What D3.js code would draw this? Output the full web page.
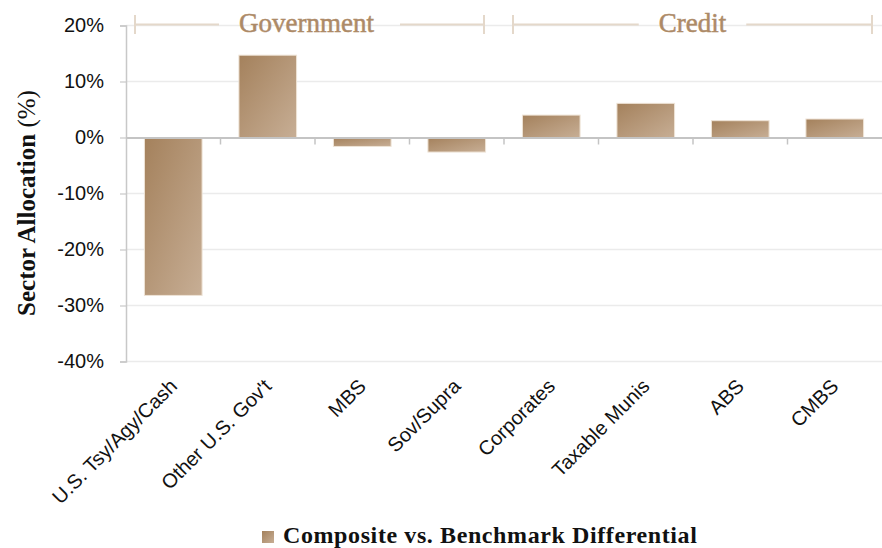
<!DOCTYPE html>
<html><head><meta charset="utf-8">
<script src="https://cdn.jsdelivr.net/npm/d3@7/dist/d3.min.js"></script>
<style>body{margin:0;background:#fff}svg{display:block}</style>
</head><body>
<svg id="chart" width="882" height="548"></svg>
<script>
const categories = ["U.S. Tsy/Agy/Cash","Other U.S. Gov't","MBS","Sov/Supra","Corporates","Taxable Munis","ABS","CMBS"];
const values = [-28.2, 14.7, -1.6, -2.6, 4.0, 6.1, 3.0, 3.3];
const yTicks = [20, 10, 0, -10, -20, -30, -40];
const groups = [{name:"Government", from:0, to:3}, {name:"Credit", from:4, to:7}];
const seriesName = "Composite vs. Benchmark Differential";
const yTitle = "Sector Allocation (%)";

const svg = d3.select("#chart");
const mLeft = 126, mRight = 882, mTop = 25.5, mBottom = 361.5;
const x = d3.scaleBand().domain(categories).range([mLeft, mRight]).paddingInner(0.39).paddingOuter(0.195);
const xb = d3.scaleBand().domain(categories).range([mLeft, mRight]);
const y = d3.scaleLinear().domain([-40, 20]).range([mBottom, mTop]);

const defs = svg.append("defs");
const g = defs.append("linearGradient").attr("id","barGrad").attr("x1","0").attr("y1","0").attr("x2","1").attr("y2","1");
g.append("stop").attr("offset","0%").attr("stop-color","#a4815c");
g.append("stop").attr("offset","100%").attr("stop-color","#c7ae95");

// gridlines
svg.append("g").selectAll("line").data(yTicks.filter(d=>d!==0)).join("line")
  .attr("x1", mLeft).attr("x2", mRight).attr("y1", d=>y(d)).attr("y2", d=>y(d))
  .attr("stroke", "#ebebeb").attr("stroke-width", 1.4);

// y axis
const yAxis = d3.axisLeft(y).tickValues(yTicks).tickFormat(d=>d+"%").tickSize(6).tickSizeOuter(6).tickPadding(16);
const ya = svg.append("g").attr("transform",`translate(${mLeft},0)`).call(yAxis);
ya.select(".domain").attr("stroke","#c8c8c8").attr("stroke-width",1.5);
ya.selectAll(".tick line").attr("stroke","#c8c8c8").attr("stroke-width",1.2);
ya.selectAll(".tick text").attr("font-family","'Liberation Sans', Arial, sans-serif").attr("font-size",20).attr("fill","#111");

// bars
svg.append("g").selectAll("rect").data(categories).join("rect")
  .attr("x", d=>x(d)).attr("width", x.bandwidth())
  .attr("y", (d,i)=>y(Math.max(0, values[i])))
  .attr("height", (d,i)=>Math.abs(y(values[i]) - y(0)))
  .attr("fill","url(#barGrad)").attr("stroke","#eee3d6").attr("stroke-width",1);

// zero line with category ticks
const xAxis = d3.axisBottom(xb).tickSize(0).tickFormat("");
const za = svg.append("g").attr("transform",`translate(0,${y(0)})`).call(xAxis);
za.select(".domain").attr("stroke","#c4c4c4").attr("stroke-width",1.8);
svg.append("g").selectAll("line").data(categories.slice(1)).join("line")
  .attr("x1", d=>xb(d)).attr("x2", d=>xb(d)).attr("y1", y(0)).attr("y2", y(0)+7)
  .attr("stroke","#c4c4c4").attr("stroke-width",1.5);

// x labels
svg.append("g").selectAll("text").data(categories).join("text")
  .attr("transform", d=>`translate(${x(d)+x.bandwidth()/2+5},${mBottom+26}) rotate(-45)`)
  .attr("text-anchor","end")
  .attr("font-family","'Liberation Sans', Arial, sans-serif").attr("font-size",20).attr("fill","#111")
  .text(d=>d);

// y title
svg.append("text").attr("transform","translate(35,203) rotate(-90)").attr("text-anchor","middle")
  .attr("font-family","'Liberation Serif', 'Times New Roman', serif").attr("font-size",25).attr("fill","#111")
  .call(t=>{t.append("tspan").attr("font-weight","bold").text("Sector Allocation ");t.append("tspan").text("(%)");});

// group brackets
const gc = "#e4d8ca";
const gg = svg.append("g");
groups.forEach((grp,i)=>{
  const x0 = xb(categories[grp.from]) + 9;
  const x1 = xb(categories[grp.to]) + xb.bandwidth() - (i===0 ? 20 : 10);
  const cx = (x0 + x1)/2 - (i===0 ? 3 : 0);
  const label = gg.append("text").attr("x", cx).attr("y", 32).attr("text-anchor","middle")
    .attr("font-family","'Liberation Serif', 'Times New Roman', serif").attr("font-size",27)
    .attr("fill","#ad8a67").attr("stroke","#ad8a67").attr("stroke-width",0.5).text(grp.name);
  const w = label.node().getComputedTextLength();
  const gap = 20;
  gg.append("line").attr("x1",x0).attr("x2",cx-w/2-gap).attr("y1",24.5).attr("y2",24.5).attr("stroke",gc).attr("stroke-width",2);
  gg.append("line").attr("x1",cx+w/2+gap+(i===0?6:0)).attr("x2",x1).attr("y1",24.5).attr("y2",24.5).attr("stroke",gc).attr("stroke-width",2);
  [x0,x1].forEach(xx=>gg.append("line").attr("x1",xx).attr("x2",xx).attr("y1",15).attr("y2",34).attr("stroke",gc).attr("stroke-width",2));
});

// legend
const lg = svg.append("g");
lg.append("rect").attr("x",262).attr("y",531).attr("width",12).attr("height",12).attr("fill","url(#barGrad)");
lg.append("text").attr("x",283).attr("y",543).attr("font-family","'Liberation Serif', 'Times New Roman', serif")
  .attr("font-size",24).attr("letter-spacing",0.6).attr("font-weight","bold").attr("fill","#111").text(seriesName);
</script>
</body></html>
